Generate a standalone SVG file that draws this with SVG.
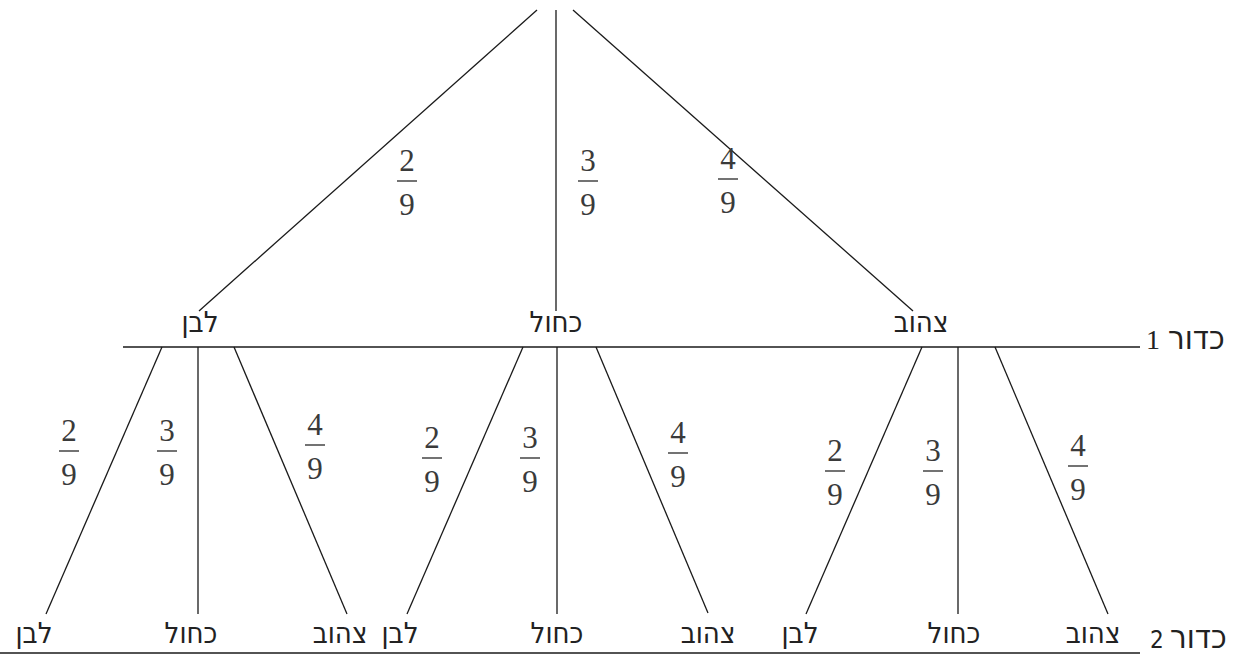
<svg xmlns="http://www.w3.org/2000/svg" width="1242" height="655" viewBox="0 0 1242 655">
<style>
.e{stroke:#1a1a1a;stroke-width:1.3;fill:none}
.bar{stroke:#444;stroke-width:1.5}
.n{font-family:"Liberation Serif",serif;font-size:31px;fill:#3a3a3a;text-anchor:middle}
.h{font-family:"DejaVu Sans Condensed","DejaVu Sans",sans-serif;font-size:29px;fill:#222;text-anchor:middle}
.k{font-family:"DejaVu Sans Condensed","DejaVu Sans",sans-serif;font-size:33px;fill:#222}
.k2{font-family:"DejaVu Sans Condensed","DejaVu Sans",sans-serif;font-size:24px;fill:#222}
.d{font-family:"Liberation Serif",serif;font-size:28px;fill:#222}
</style>
<defs>
<g id="f2"><text class="n" y="-10">2</text><line class="bar" x1="-10" x2="10" y1="0" y2="0"/><text class="n" y="34">9</text></g>
<g id="f3"><text class="n" y="-10">3</text><line class="bar" x1="-10" x2="10" y1="0" y2="0"/><text class="n" y="34">9</text></g>
<g id="f4"><text class="n" y="-10">4</text><line class="bar" x1="-10" x2="10" y1="0" y2="0"/><text class="n" y="34">9</text></g>
</defs>
<g id="connectors">
<line class="e" x1="537" y1="10" x2="199" y2="311"/>
<line class="e" x1="556" y1="10" x2="556" y2="311"/>
<line class="e" x1="573" y1="10" x2="913" y2="311"/>
<line class="e" x1="123" y1="347" x2="1140" y2="347"/>
<line class="e" x1="0" y1="653" x2="1140" y2="653"/>
<line class="e" x1="162" y1="347" x2="46" y2="614"/>
<line class="e" x1="198" y1="347" x2="198" y2="614"/>
<line class="e" x1="234" y1="347" x2="347" y2="614"/>
<line class="e" x1="523" y1="347" x2="407" y2="614"/>
<line class="e" x1="557" y1="347" x2="557" y2="614"/>
<line class="e" x1="596" y1="347" x2="708" y2="613"/>
<line class="e" x1="922" y1="347" x2="806" y2="614"/>
<line class="e" x1="958" y1="347" x2="958" y2="614"/>
<line class="e" x1="995" y1="347" x2="1108" y2="614"/>
</g>
<g id="probs">
<use href="#f2" x="407" y="181"/>
<use href="#f3" x="588" y="181"/>
<use href="#f4" x="728" y="179"/>
<use href="#f2" x="69" y="451"/>
<use href="#f3" x="167" y="451"/>
<use href="#f4" x="315" y="445"/>
<use href="#f2" x="432" y="458"/>
<use href="#f3" x="530" y="458"/>
<use href="#f4" x="678" y="453"/>
<use href="#f2" x="835" y="471"/>
<use href="#f3" x="933" y="471"/>
<use href="#f4" x="1078" y="466"/>
</g>
<g id="n-white1"><text class="h" x="200" y="332">לבן</text></g>
<g id="n-blue1"><text class="h" x="556" y="332">כחול</text></g>
<g id="n-yellow1"><text class="h" x="921" y="332">צהוב</text></g>
<g id="n-w-w"><text class="h" x="34" y="643">לבן</text></g>
<g id="n-w-b"><text class="h" x="191" y="643">כחול</text></g>
<g id="n-w-y"><text class="h" x="340" y="643">צהוב</text></g>
<g id="n-b-w"><text class="h" x="400" y="643">לבן</text></g>
<g id="n-b-b"><text class="h" x="557" y="643">כחול</text></g>
<g id="n-b-y"><text class="h" x="708" y="643">צהוב</text></g>
<g id="n-y-w"><text class="h" x="800" y="643">לבן</text></g>
<g id="n-y-b"><text class="h" x="954" y="643">כחול</text></g>
<g id="n-y-y"><text class="h" x="1093" y="643">צהוב</text></g>
<g id="level1"><text class="d" x="1146" y="349">1</text><text class="k" x="1168" y="349">כדור</text></g>
<g id="level2"><text class="k2" x="1150" y="648">2</text><text class="k" x="1170" y="648">כדור</text></g>
</svg>
